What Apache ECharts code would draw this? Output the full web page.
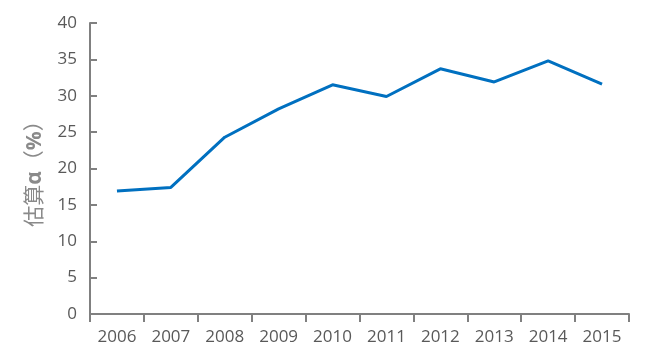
<!DOCTYPE html>
<html>
<head>
<meta charset="utf-8">
<script src="https://cdn.jsdelivr.net/npm/echarts@6/dist/echarts.min.js"></script>
<style>html,body{margin:0;padding:0;background:#fff}#c{width:653px;height:357px}</style>
</head>
<body>
<div id="c"></div>
<script>
const categories = ['2006','2007','2008','2009','2010','2011','2012','2013','2014','2015'];
const alphaValues = [16.9, 17.4, 24.3, 28.2, 31.5, 29.9, 33.7, 31.9, 34.8, 31.6];
const yTicks = {min: 0, max: 40, interval: 5};

const chart = echarts.init(document.getElementById('c'));
const axisColor = '#808080';
const textColor = '#595959';
const font = '"Open Sans", "Noto Sans CJK SC", sans-serif';
chart.setOption({
  animation: false,
  grid: {left: 90, right: 24, top: 23, bottom: 43, containLabel: false},
  xAxis: {
    type: 'category',
    data: categories,
    boundaryGap: true,
    axisLine: {lineStyle: {color: axisColor, width: 2}},
    axisTick: {show: true, inside: false, length: 8, lineStyle: {color: axisColor, width: 2}, alignWithLabel: false},
    axisLabel: {color: textColor, fontSize: 17, fontFamily: font, margin: 15},
    splitLine: {show: false}
  },
  yAxis: {
    type: 'value',
    min: yTicks.min, max: yTicks.max, interval: yTicks.interval,
    name: '估算{b|α}（{b|%}）',
    nameLocation: 'middle',
    nameGap: 44,
    nameRotate: 90,
    nameTextStyle: {
      color: '#8a8a8a', fontSize: 21, fontFamily: font,
      rich: {b: {fontWeight: 'bold', color: '#8a8a8a', fontSize: 21, fontFamily: font}}
    },
    axisLine: {show: true, lineStyle: {color: axisColor, width: 2}},
    axisTick: {show: true, inside: true, length: 7, lineStyle: {color: axisColor, width: 2}},
    axisLabel: {color: textColor, fontSize: 17, fontFamily: font, margin: 13},
    splitLine: {show: false}
  },
  series: [{
    type: 'line',
    data: alphaValues,
    symbol: 'none',
    lineStyle: {color: '#0070C0', width: 3},
    itemStyle: {color: '#0070C0'}
  }]
});
</script>
</body>
</html>
